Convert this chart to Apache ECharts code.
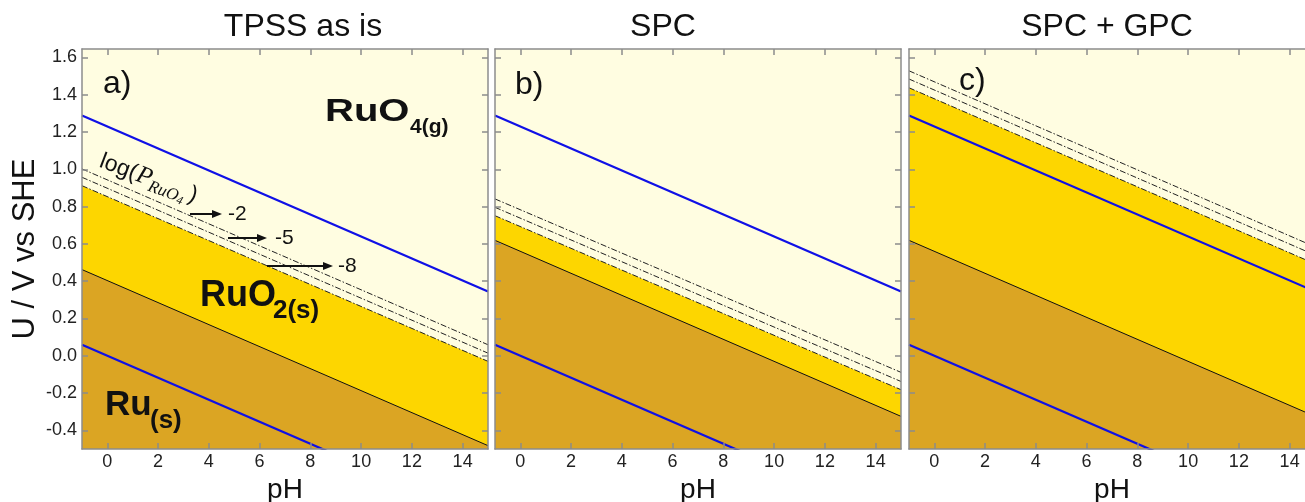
<!DOCTYPE html>
<html><head><meta charset="utf-8">
<script src="https://cdn.jsdelivr.net/npm/echarts@6/dist/echarts.min.js"></script>
<style>html,body{margin:0;padding:0;background:#fff}#c{width:1305px;height:502px}</style>
</head><body><div id="c"></div>
<script>
// ---- data ----
const pHEnds = [-1, 15];                       // x positions of line ends (axis limits)
const xTicks = [0, 2, 4, 6, 8, 10, 12, 14];
const yTicks = [-0.4, -0.2, 0, 0.2, 0.4, 0.6, 0.8, 1.0, 1.2, 1.4, 1.6];
const panelTitles = ['TPSS as is', 'SPC', 'SPC + GPC'];
const panelTags = ['a)', 'b)', 'c)'];
const logPLabels = ['-2', '-5', '-8'];
// U (V vs SHE) at pH = -1 and pH = 15
const o2Line = [1.289, 0.345];                 // upper blue line
const h2Line = [0.059, -0.885];                // lower blue line
const ruRuO2 = [[0.462, -0.482], [0.619, -0.325], [0.619, -0.325]];
const ruO4m8 = [[0.912, -0.030], [0.751, -0.182], [1.437, 0.493]];
const ruO4m5 = [[0.957, 0.014], [0.796, -0.138], [1.484, 0.540]];
const ruO4m2 = [[1.002, 0.059], [0.841, -0.089], [1.528, 0.584]];

// ---- styling ----
const C_BG = '#FFFDE1', C_RUO2 = '#FDD600', C_RU = '#DBA523', C_BLUE = '#1010E6';
const AX = '#8c8c8c';
const FONT = 'Liberation Sans';
const grids = [
  {left: 82, top: 49, width: 406, height: 400},
  {left: 495, top: 49, width: 406, height: 400},
  {left: 909, top: 49, width: 406, height: 400}
];
const pts = arr => pHEnds.map((x, k) => [x, arr[k]]);

const xAxis = [], yAxis = [], series = [];
grids.forEach((g, i) => {
  xAxis.push({
    gridIndex: i, type: 'value', min: -1, max: 15, position: 'bottom', z: 10,
    axisLine: {onZero: false, lineStyle: {color: AX, width: 1.5}},
    axisTick: {inside: true, length: 6, customValues: xTicks, lineStyle: {color: AX, width: 1.5}},
    axisLabel: {customValues: xTicks, margin: 4, fontSize: 18, color: '#222', fontFamily: FONT},
    splitLine: {show: false},
    name: 'pH', nameLocation: 'middle', nameGap: 24,
    nameTextStyle: {fontSize: 28, color: '#111', fontFamily: FONT}
  });
  xAxis.push({
    gridIndex: i, type: 'value', min: -1, max: 15, position: 'top', z: 10,
    axisLine: {onZero: false, lineStyle: {color: AX, width: 1.5}},
    axisTick: {inside: true, length: 6, customValues: xTicks, lineStyle: {color: AX, width: 1.5}},
    axisLabel: {show: false}, splitLine: {show: false}
  });
  yAxis.push({
    gridIndex: i, type: 'value', min: -0.5, max: 1.645, position: 'left', z: 10,
    axisLine: {onZero: false, lineStyle: {color: AX, width: 1.5}},
    axisTick: {inside: true, length: 6, customValues: yTicks, lineStyle: {color: AX, width: 1.5}},
    axisLabel: {show: i === 0, customValues: yTicks, margin: 5, fontSize: 18, color: '#222',
      fontFamily: FONT, formatter: v => v.toFixed(1)},
    splitLine: {show: false},
    name: i === 0 ? 'U / V vs SHE' : '', nameLocation: 'middle', nameGap: 41,
    nameTextStyle: {fontSize: 31, color: '#111', fontFamily: FONT}
  });
  yAxis.push({
    gridIndex: i, type: 'value', min: -0.5, max: 1.645, position: 'right', z: 10,
    axisLine: {onZero: false, lineStyle: {color: AX, width: 1.5}},
    axisTick: {inside: true, length: 6, customValues: yTicks, lineStyle: {color: AX, width: 1.5}},
    axisLabel: {show: false}, splitLine: {show: false}
  });
  const base = {type: 'line', xAxisIndex: 2 * i, yAxisIndex: 2 * i, symbol: 'none', silent: true, animation: false};
  series.push(Object.assign({}, base, {data: pts(ruO4m8[i]), lineStyle: {width: 0}, areaStyle: {color: C_RUO2, opacity: 1, origin: 'start'}}));
  series.push(Object.assign({}, base, {data: pts(ruRuO2[i]), lineStyle: {width: 1, color: '#111'}, areaStyle: {color: C_RU, opacity: 1, origin: 'start'}}));
  [ruO4m8, ruO4m5, ruO4m2].forEach(a => {
    series.push(Object.assign({}, base, {data: pts(a[i]), lineStyle: {width: 1, color: '#222', type: [6, 2, 1.5, 2]}}));
  });
  series.push(Object.assign({}, base, {data: pts(o2Line), lineStyle: {width: 2.2, color: C_BLUE}}));
  series.push(Object.assign({}, base, {data: pts(h2Line), lineStyle: {width: 2.2, color: C_BLUE}}));
});

// ---- annotations ----
const txt = (text, x, y, size, opt) => ({type: 'text', x, y, z: 100, silent: true,
  style: Object.assign({text, fontSize: size, fontFamily: FONT, fill: '#111', align: 'left', verticalAlign: 'middle'}, opt || {})});
const titleX = [303, 663, 1107];
const tagPos = [[103, 84], [515, 85], [959, 81]];
const graphic = [];
panelTitles.forEach((t, i) => graphic.push(txt(t, titleX[i], 27, 32, {align: 'center'})));
panelTags.forEach((t, i) => graphic.push(txt(t, tagPos[i][0], tagPos[i][1], 32)));
// phase labels
graphic.push(Object.assign(txt('RuO', 325, 112, 32, {fontWeight: 'bold'}), {scaleX: 1.25}));
graphic.push(txt('4(g)', 410, 127, 21, {fontWeight: 'bold'}));
graphic.push(txt('RuO', 200, 296, 36, {fontWeight: 'bold'}));
graphic.push(txt('2(s)', 273, 311, 26, {fontWeight: 'bold'}));
graphic.push(txt('Ru', 105, 405, 35, {fontWeight: 'bold'}));
graphic.push(txt('(s)', 150, 421, 26, {fontWeight: 'bold'}));
// log(P_RuO4) rotated label
graphic.push({type: 'group', x: 98, y: 167, rotation: -0.36, z: 100, silent: true, children: [
  {type: 'text', x: 0, y: -7, style: {text: 'log(', fontSize: 23, fontFamily: FONT, fill: '#111', verticalAlign: 'middle'}},
  {type: 'text', x: 39, y: -7, style: {text: 'P', fontSize: 25, fontStyle: 'italic', fontFamily: 'Liberation Serif', fill: '#111', verticalAlign: 'middle'}},
  {type: 'text', x: 54, y: 0, style: {text: 'RuO', fontSize: 17, fontStyle: 'italic', fontFamily: 'Liberation Serif', fill: '#111', verticalAlign: 'middle'}},
  {type: 'text', x: 85, y: 3, style: {text: '4', fontSize: 12, fontStyle: 'italic', fontFamily: 'Liberation Serif', fill: '#111', verticalAlign: 'middle'}},
  {type: 'text', x: 95, y: -7, style: {text: ')', fontSize: 23, fontFamily: FONT, fill: '#111', verticalAlign: 'middle'}}
]});
// arrows
const arrowDefs = [[190, 222, 214, 228], [228, 267, 238, 275], [267, 333, 266, 338]];
arrowDefs.forEach((a, k) => {
  const [x1, x2, y, tx] = a;
  graphic.push({type: 'line', z: 100, silent: true, shape: {x1, y1: y, x2: x2 - 6, y2: y}, style: {stroke: '#111', lineWidth: 2}});
  graphic.push({type: 'polygon', z: 100, silent: true, shape: {points: [[x2, y], [x2 - 10, y - 4], [x2 - 10, y + 4]]}, style: {fill: '#111'}});
  graphic.push(txt(logPLabels[k], tx, y, 21));
});

const chart = echarts.init(document.getElementById('c'), null, {renderer: 'canvas'});
chart.setOption({
  animation: false,
  backgroundColor: '#fff',
  grid: grids.map(g => Object.assign({show: true, backgroundColor: C_BG, borderWidth: 0, containLabel: false, outerBoundsMode: 'none'}, g)),
  xAxis, yAxis, series, graphic
});
</script>
</body></html>
